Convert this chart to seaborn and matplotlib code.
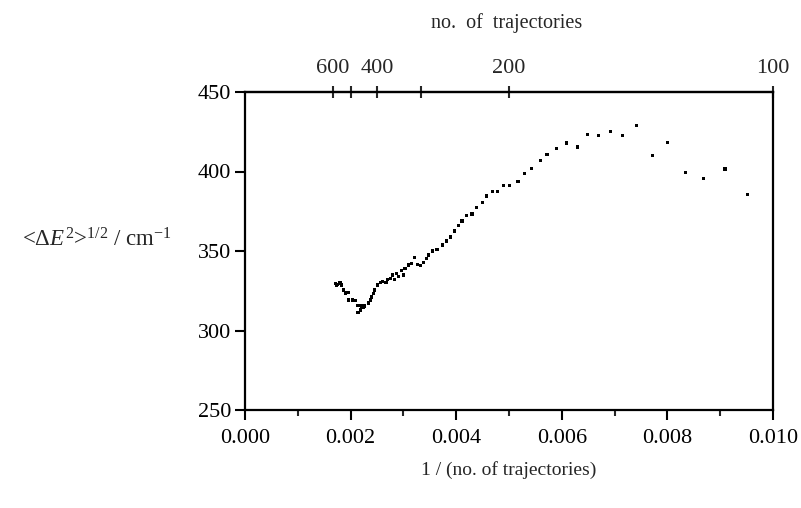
import matplotlib
matplotlib.use("Agg")
import matplotlib.pyplot as plt
import numpy as np
import pandas as pd
import seaborn as sns

# 1 / (no. of trajectories) and the rms energy spread
inv_n = [
    0.00172, 0.00174, 0.00176, 0.00180, 0.00183, 0.00187, 0.00190, 0.00195,
    0.00196, 0.00204, 0.00209, 0.00214, 0.00214, 0.00218, 0.00221, 0.00224,
    0.00227, 0.00234, 0.00237, 0.00240, 0.00243, 0.00246, 0.00251, 0.00256,
    0.00260, 0.00267, 0.00270, 0.00275, 0.00279, 0.00283, 0.00287, 0.00291,
    0.00296, 0.00300, 0.00303, 0.00310, 0.00316, 0.00321, 0.00327, 0.00333,
    0.00338, 0.00344, 0.00347, 0.00355, 0.00362, 0.00365, 0.00374, 0.00382,
    0.00389, 0.00396, 0.00404, 0.00411, 0.00420, 0.00430, 0.00438, 0.00449,
    0.00457, 0.00468, 0.00478, 0.00490, 0.00501, 0.00517, 0.00529, 0.00543,
    0.00559, 0.00572, 0.00590, 0.00609, 0.00629, 0.00648, 0.00670, 0.00693,
    0.00715, 0.00742, 0.00771, 0.00801, 0.00835, 0.00868, 0.00909, 0.00951,
]
rms_e = [
    329.6, 328.6, 329.2, 329.9, 328.6, 325.5, 323.6, 324.0,
    319.2, 319.2, 318.6, 316.0, 311.6, 312.9, 315.4, 314.8,
    315.4, 317.3, 319.2, 321.1, 323.4, 325.5, 328.6, 330.1,
    330.7, 330.1, 331.8, 332.8, 334.9, 332.2, 336.0, 333.8,
    337.6, 334.9, 339.1, 341.2, 342.3, 346.0, 341.5, 341.0,
    342.5, 345.4, 347.5, 350.0, 351.1, 351.1, 353.8, 356.3,
    358.8, 362.6, 366.2, 368.9, 372.2, 373.3, 377.2, 380.6,
    384.6, 387.5, 387.5, 391.1, 391.1, 393.6, 398.6, 402.0,
    407.0, 410.6, 414.2, 417.9, 415.4, 423.0, 422.8, 425.0,
    422.5, 429.0, 410.0, 418.0, 399.2, 395.5, 401.6, 385.4,
]

top_counts = [600, 500, 400, 300, 200, 100]
top_labels = ["600", "", "400", "", "200", "100"]

sns.set_style("ticks")
plt.rcParams["font.family"] = ["Liberation Serif", "DejaVu Serif"]
plt.rcParams["mathtext.fontset"] = "custom"
plt.rcParams["mathtext.rm"] = "Liberation Serif"
plt.rcParams["mathtext.it"] = "Liberation Serif:italic"

df = pd.DataFrame({"x": inv_n, "y": rms_e})

fig = plt.figure(figsize=(8.01, 5.08), dpi=100)
ax = fig.add_axes([245 / 801, 1 - 410 / 508, (773 - 245) / 801, (410 - 92) / 508])

sns.scatterplot(data=df, x="x", y="y", ax=ax, marker="s", s=5,
                color="black", edgecolor="none", linewidth=0)

ax.set_xlim(0, 0.010)
ax.set_ylim(250, 450)
ax.set_xticks(np.arange(0, 0.0101, 0.002))
ax.set_xticklabels([f"{v:.3f}" for v in np.arange(0, 0.0101, 0.002)])
ax.set_xticks(np.arange(0.001, 0.010, 0.002), minor=True)
ax.set_yticks([250, 300, 350, 400, 450])
ax.tick_params(axis="both", which="major", direction="out", length=7,
               width=1.5, labelsize=16, colors="black", pad=3)
ax.tick_params(axis="x", which="major", pad=7)
ax.tick_params(axis="x", which="minor", direction="out", length=4, width=1.5)
ax.set_xlabel("")
ax.set_ylabel("")
for sp in ax.spines.values():
    sp.set_visible(True)
    sp.set_linewidth(1.6)
    sp.set_color("black")

top = ax.secondary_xaxis("top")
top.set_xticks([1 / n for n in top_counts])
top.set_xticklabels(top_labels)
top.tick_params(axis="x", direction="inout", length=8, width=1.5,
                labelsize=16, pad=6)
top.spines["top"].set_linewidth(1.6)

fig.text(0.632, 0.955, "no.  of  trajectories", ha="center", va="center",
         fontsize=14.5)
fig.text(0.635, 0.075, "1 / (no. of trajectories)", ha="center",
         va="center", fontsize=14)
fig.text(0.027, 0.527, r"<Δ$E^{2}$>$^{1/2}$ / cm$^{-1}$", ha="left",
         va="center", fontsize=16.5)

fig.savefig("out.png", dpi=100)
